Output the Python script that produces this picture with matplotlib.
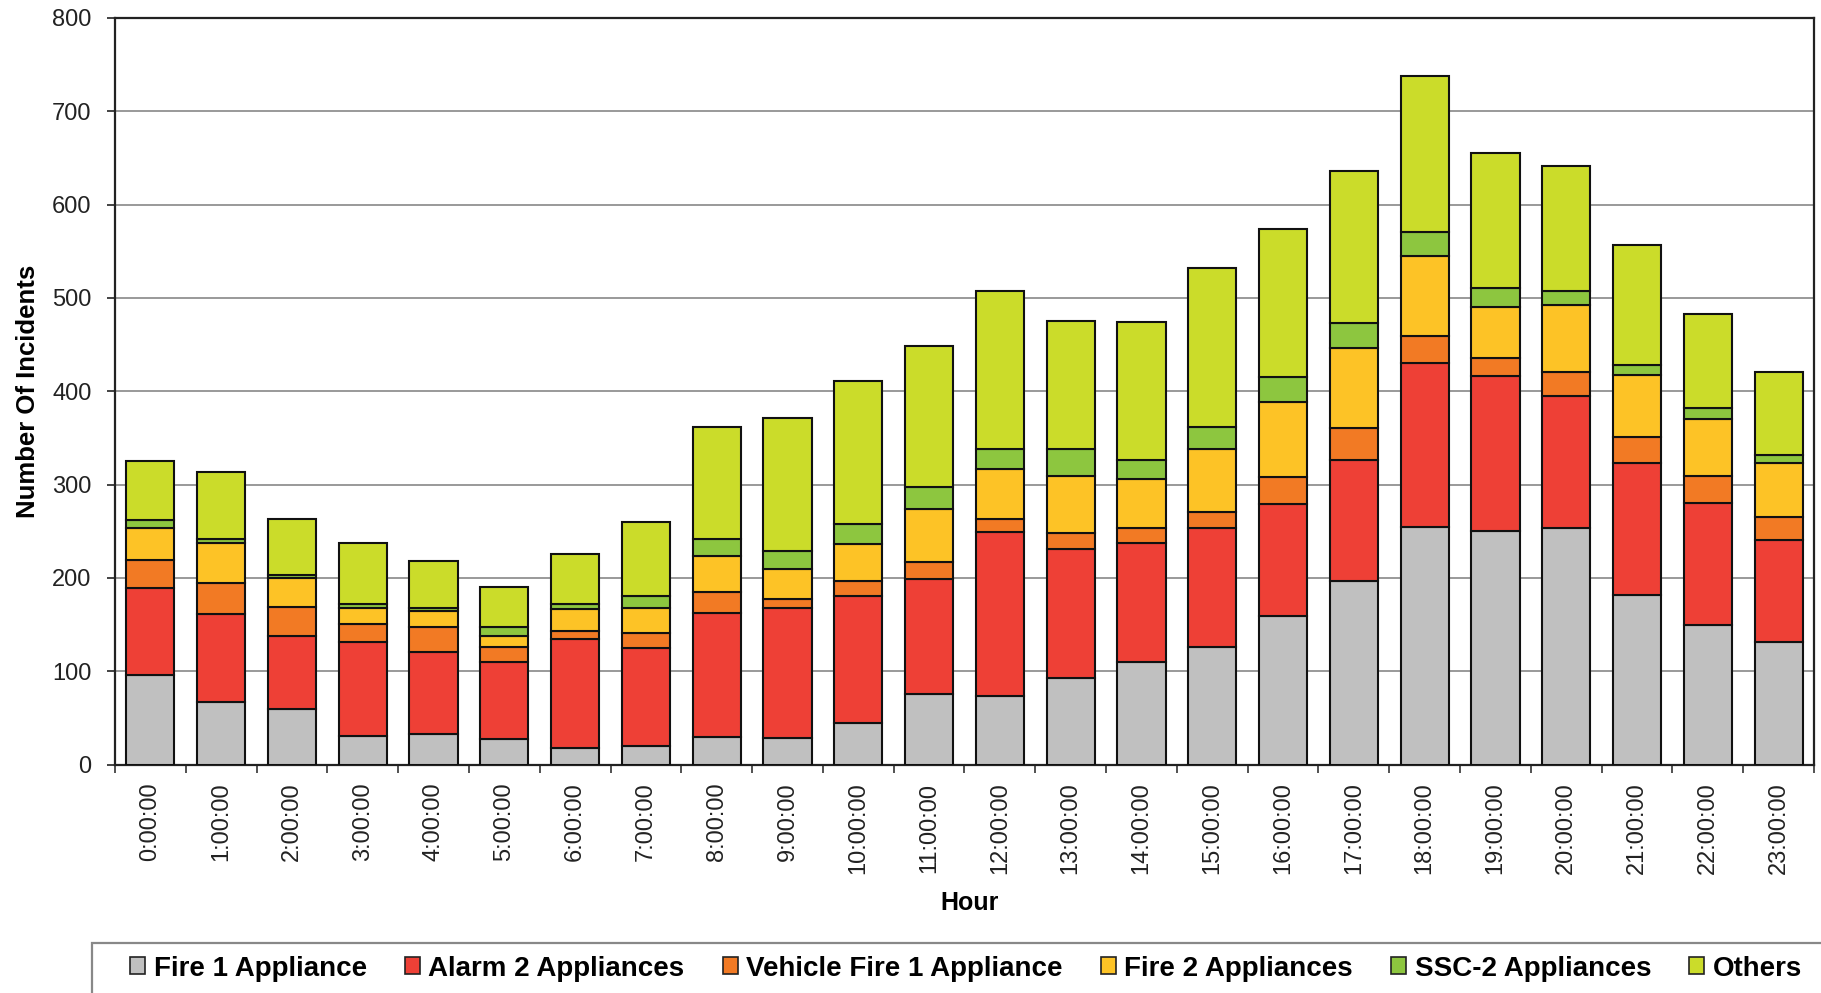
import matplotlib
matplotlib.use("Agg")
import matplotlib.pyplot as plt
from matplotlib.patches import Rectangle, Patch
import numpy as np

hours = [f"{h}:00:00" for h in range(24)]
fire1 = [96, 67, 60, 31, 33, 27, 18, 20, 30, 28, 44, 76, 73, 93, 110, 126, 159, 197, 255, 250, 253, 182, 149, 131]
alarm2 = [93, 94, 78, 100, 88, 83, 116, 105, 132, 140, 137, 123, 176, 138, 127, 127, 120, 129, 175, 166, 142, 141, 131, 110]
vehicle1 = [30, 34, 31, 20, 26, 16, 9, 16, 23, 9, 16, 18, 14, 17, 16, 18, 29, 35, 29, 20, 26, 28, 29, 24]
fire2 = [34, 42, 31, 17, 17, 12, 24, 27, 38, 32, 39, 57, 54, 61, 53, 67, 81, 85, 86, 54, 71, 66, 61, 58]
ssc2 = [9, 5, 3, 4, 4, 9, 5, 13, 19, 20, 22, 23, 21, 29, 20, 24, 26, 27, 26, 21, 15, 11, 12, 9]
others = [63, 71, 60, 65, 50, 43, 54, 79, 120, 142, 153, 151, 169, 137, 148, 170, 159, 163, 167, 144, 134, 129, 101, 89]

series_names = ["Fire 1 Appliance", "Alarm 2 Appliances", "Vehicle Fire 1 Appliance",
                "Fire 2 Appliances", "SSC-2 Appliances", "Others"]
series = [fire1, alarm2, vehicle1, fire2, ssc2, others]
colors = ["#C0C0C0", "#EE4036", "#F27A24", "#FDC326", "#8DC63F", "#CBDC2A"]

plt.rcParams['font.family'] = ['Liberation Sans', 'DejaVu Sans']

fig = plt.figure(figsize=(18.21, 9.93), dpi=100)
ax = fig.add_axes([115/1821, 1-764.5/993, (1814-115)/1821, (764.5-18)/993])

x = np.arange(len(hours))
bottom = np.zeros(len(hours))
for vals, col in zip(series, colors):
    ax.bar(x, vals, width=0.68, bottom=bottom, color=col, edgecolor="#111111",
           linewidth=1.5, zorder=3)
    bottom += np.array(vals)

ax.set_xlim(-0.5, len(hours) - 0.5)
ax.set_ylim(0, 800)
ax.set_yticks(range(0, 801, 100))
ax.tick_params(axis='y', labelsize=17, length=6, width=1.2, pad=11, colors='#222222')
ax.set_xticks(x)
ax.set_xticklabels(hours, rotation=90, fontsize=17, color='#222222')
ax.tick_params(axis='x', length=0, pad=13)
ax.set_xticks(np.arange(-0.5, len(hours), 1.0), minor=True)
ax.tick_params(axis='x', which='minor', length=6, width=1.2, color='#333333')

ax.yaxis.grid(True, color="#888888", linewidth=1.2, zorder=0)
ax.set_axisbelow(True)
for s in ax.spines.values():
    s.set_linewidth(1.6)
    s.set_color("#222222")

ax.set_ylabel("Number Of Incidents", fontsize=18.5, fontweight='bold')
ax.yaxis.set_label_coords(-(115-40)/(1814-115), 0.5)
fig.text(970/1821, 1-903/993, "Hour", fontsize=18, fontweight='bold', ha='center', va='center')

handles = [Patch(facecolor=c, edgecolor='#222222', linewidth=1.2) for c in colors]
leg = fig.legend(handles, series_names, loc='center left',
                 bbox_to_anchor=(130/1821, 1-968.5/993), ncol=6, frameon=False,
                 prop={'size': 20, 'weight': 'bold'}, borderpad=0, borderaxespad=0,
                 handlelength=0.55, handleheight=0.55, handletextpad=0.3, columnspacing=1.37)

fig.patches.append(Rectangle((92/1821, -0.2), 1.2, 1-943/993 + 0.2, transform=fig.transFigure,
                             fill=False, edgecolor="#888888", linewidth=1.6))

fig.savefig("out.png", dpi=100)
